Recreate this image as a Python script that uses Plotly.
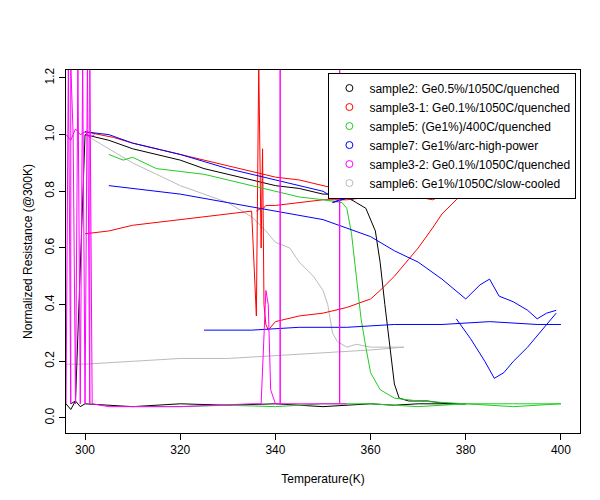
import plotly.graph_objects as go

N = None
# sample2 black
s2_x = [297,298,300,305,310,315,320,325,330,335,340,345,350,353,355,357,359,361,362,363,364,365,366,368,372,376,380,N,
        296,297,298,299,300,310,320,330,340,350,360,365,370,380]
s2_y = [0.05,0.06,1.0,0.98,0.95,0.93,0.91,0.88,0.86,0.84,0.82,0.81,0.79,0.79,0.78,0.76,0.74,0.66,0.55,0.40,0.25,0.12,0.07,0.06,0.06,0.05,0.05,N,
        0.05,0.03,0.06,0.04,0.05,0.04,0.05,0.045,0.05,0.04,0.05,0.045,0.05,0.05]
# sample3-1 red
s3_x = [300,303,306,310,315,320,325,330,335,337,340,345,350,355,360,365,370,373,376,378,380,N,
        300,305,310,315,320,325,330,335,336,336.5,337,337.3,337.6,338,338.5,339,340,345,350,355,360,362,365,368,370,373,375,378,380,N,
        336,337,337.5,338,340,345,350,355,360]
s3_y = [1.01,1.0,0.99,0.97,0.95,0.93,0.91,0.89,0.87,0.86,0.85,0.84,0.82,0.80,0.79,0.78,0.78,0.77,0.79,0.80,0.81,N,
        0.65,0.66,0.68,0.69,0.70,0.71,0.72,0.73,0.36,1.25,0.60,0.95,0.40,0.33,0.31,0.32,0.34,0.36,0.37,0.39,0.42,0.45,0.50,0.56,0.60,0.67,0.72,0.77,0.80,N,
        0.73,0.74,0.74,0.75,0.75,0.76,0.77,0.77,0.78]
# sample5 green
s5_x = [305,308,310,315,320,325,330,335,340,345,350,354,355,356,357,358,359,360,362,365,370,380,390,400,N,
        310,320,330,340,350,360,370,380,390,400]
s5_y = [0.93,0.91,0.92,0.88,0.87,0.86,0.84,0.82,0.80,0.78,0.77,0.76,0.74,0.65,0.50,0.35,0.25,0.16,0.10,0.07,0.06,0.05,0.05,0.05,N,
        0.04,0.04,0.045,0.04,0.05,0.05,0.04,0.05,0.04,0.05]
# sample7 blue
s7_x = [300,305,310,320,330,340,345,350,352,354,356,358,352,355,N,
        305,310,320,330,340,350,355,360,365,370,375,378,380,383,385,387,390,393,395,397,399,N,
        378,381,384,386,388,390,393,396,398,399,N,
        325,335,345,355,365,375,385,395,400]
s7_y = [1.01,1.0,0.97,0.93,0.88,0.84,0.82,0.80,0.78,0.80,0.77,0.79,0.76,0.78,N,
        0.82,0.81,0.79,0.76,0.73,0.70,0.67,0.64,0.59,0.55,0.49,0.45,0.42,0.47,0.49,0.43,0.41,0.38,0.35,0.37,0.38,N,
        0.35,0.28,0.20,0.14,0.16,0.20,0.25,0.31,0.35,0.37,N,
        0.31,0.31,0.32,0.32,0.33,0.33,0.34,0.33,0.33]
# sample3-2 magenta
s32_x = [296,296.5,297,297,297.5,298,298.5,299,299.5,300,300.5,301,301,301.5,305,320,335,337,338,338.5,339,340,341,341,341,345,353.5,353.5,353.5,355,N,
         296,297,298,299,300,301,302]
s32_y = [0.05,1.25,0.05,1.25,1.0,0.05,1.25,0.05,1.25,0.05,1.25,0.05,1.25,0.05,0.04,0.04,0.05,0.05,0.45,0.40,0.10,0.05,0.05,1.25,0.05,0.05,0.05,1.25,0.05,0.05,N,
         1.0,0.98,1.02,1.0,1.01,0.99,1.0]
# sample6 gray
s6_x = [300,305,310,315,320,325,330,335,338,340,343,345,348,350,351,352,353,355,357,360,363,367,N,
        296,300,310,320,330,340,350,360,367]
s6_y = [1.0,0.95,0.90,0.86,0.82,0.79,0.76,0.71,0.66,0.62,0.60,0.55,0.50,0.45,0.40,0.30,0.27,0.25,0.26,0.25,0.25,0.25,N,
        0.19,0.19,0.20,0.21,0.21,0.22,0.23,0.24,0.25]

series = [
    ("sample2: Ge0.5%/1050C/quenched", "black", s2_x, s2_y),
    ("sample3-1: Ge0.1%/1050C/quenched", "red", s3_x, s3_y),
    ("sample5: (Ge1%)/400C/quenched", "#22cc22", s5_x, s5_y),
    ("sample7: Ge1%/arc-high-power", "blue", s7_x, s7_y),
    ("sample3-2: Ge0.1%/1050C/quenched", "magenta", s32_x, s32_y),
    ("sample6: Ge1%/1050C/slow-cooled", "#bbbbbb", s6_x, s6_y),
]
order = [5, 0, 1, 2, 3, 4]
fig = go.Figure()
for i in order:
    name, c, x, y = series[i]
    fig.add_trace(go.Scatter(x=x, y=y, mode="lines", line=dict(color=c, width=1),
                             showlegend=False, connectgaps=False))
for name, c, x, y in series:
    fig.add_trace(go.Scatter(x=[None], y=[None], mode="markers", name=name,
                             marker=dict(symbol="circle-open", color=c, size=7)))
ax = dict(showgrid=False, zeroline=False, showline=True, mirror=True, linecolor="black",
          ticks="outside", ticklen=6, tickcolor="black", tickfont=dict(size=12, color="black"))
fig.update_layout(
    width=600, height=500, plot_bgcolor="white", paper_bgcolor="white",
    margin=dict(l=58, r=28, t=62, b=75),
    font=dict(family="Liberation Sans, Arial", color="black"),
    xaxis=dict(range=[296, 404], tickvals=[300,320,340,360,380,400],
               title=dict(text="Temperature(K)", font=dict(size=12), standoff=18), **ax),
    yaxis=dict(range=[-0.053, 1.228], tickvals=[0,0.2,0.4,0.6,0.8,1.0,1.2],
               tickformat=".1f", tickangle=-90,
               title=dict(text="Normalized Resistance (@300K)", font=dict(size=12), standoff=8), **ax),
    legend=dict(x=0.993, y=0.993, xanchor="right", yanchor="top", bordercolor="black",
                borderwidth=1, bgcolor="white", font=dict(size=12), tracegroupgap=0, itemwidth=30),
)
fig.write_html("out.html")
